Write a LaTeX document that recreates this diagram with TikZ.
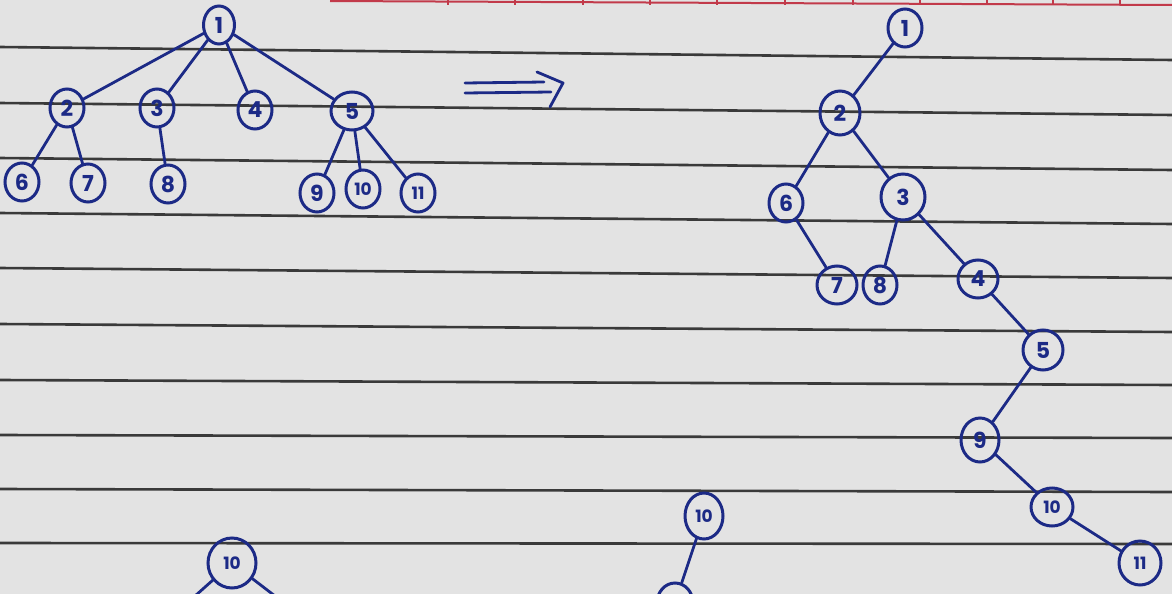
\documentclass[tikz,border=0pt]{standalone}
\usepackage{fontspec}
\setmainfont{Poppins}
\usetikzlibrary{shapes.geometric}
\definecolor{paper}{HTML}{E3E3E3}
\definecolor{rule}{HTML}{3A3A3A}
\definecolor{ink}{HTML}{1C2A86}
\definecolor{redline}{HTML}{C23A4A}
\tikzset{
  vtx/.style={ellipse, draw=ink, line width=3pt, text=ink, inner sep=0pt,
    minimum width=34pt, minimum height=38pt, font=\fontsize{22}{22}\selectfont\bfseries},
  small/.style={font=\fontsize{17}{17}\selectfont\bfseries},
  big/.style={minimum width=44pt, minimum height=46pt},
  edge/.style={draw=ink, line width=2.8pt, line cap=round},
  ruling/.style={draw=rule, line width=2.6pt},
  header/.style={draw=redline, line width=2pt}
}
\begin{document}
\begin{tikzpicture}[x=1pt,y=-1pt]
\fill[paper] (0,0) rectangle (1172,594);
\useasboundingbox (0,0) rectangle (1172,594);
\clip (0,0) rectangle (1172,594);
% notebook rulings
\foreach \a/\b in {47/60,103/115,158/170,213/224,268/278,324/332,380/385,435/438,489/492,543/544}
  \draw[ruling] (0,\a) -- (1172,\b);
% red header line with ticks
\draw[header] (330,1) -- (1172,5);
\foreach \t in {448,515,583,650,717,785,853,920,987,1053,1120}
  \draw[header] (\t,0) -- (\t,5);

% ---------- left tree ----------
\node[vtx, minimum width=31pt] (L1) at (219,25) {1};
\node[vtx] (L2) at (67,108) {2};
\node[vtx] (L3) at (157,108) {3};
\node[vtx] (L4) at (255,110) {4};
\node[vtx, minimum width=42pt] (L5) at (352,111) {5};
\node[vtx] (L6) at (22,182) {6};
\node[vtx] (L7) at (88,183) {7};
\node[vtx] (L8) at (168,184) {8};
\node[vtx] (L9) at (317,193) {9};
\node[vtx, small] (L10) at (363,189) {10};
\node[vtx, small] (L11) at (418,193) {11};
\draw[edge] (L1) -- (L2);
\draw[edge] (L1) -- (L3);
\draw[edge] (L1) -- (L4);
\draw[edge] (L1) -- (L5);
\draw[edge] (L2) -- (L6);
\draw[edge] (L2) -- (L7);
\draw[edge] (L3) -- (L8);
\draw[edge] (L5) -- (L9);
\draw[edge] (L5) -- (L10);
\draw[edge] (L5) -- (L11);

% ---------- arrow ----------
\coordinate (A1) at (465,83);
\coordinate (A2) at (544,82);
\coordinate (A3) at (465,93);
\coordinate (A4) at (551,92);
\coordinate (H1) at (537,72);
\coordinate (H2) at (563,83);
\coordinate (H3) at (550,107);
\draw[edge] (A1) -- (A2);
\draw[edge] (A3) -- (A4);
\draw[edge, line join=round] (H1) -- (H2) -- (H3);

% ---------- right tree ----------
\node[vtx] (R1) at (905,28) {1};
\node[vtx, minimum width=40pt, minimum height=44pt] (R2) at (840,113) {2};
\node[vtx] (R6) at (786,203) {6};
\node[vtx, big] (R3) at (903,197) {3};
\node[vtx, minimum width=40pt] (R7) at (837,285) {7};
\node[vtx] (R8) at (880,285) {8};
\node[vtx, minimum width=40pt] (R4) at (978,279) {4};
\node[vtx, minimum width=40pt, minimum height=40pt] (R5) at (1043,350) {5};
\node[vtx, minimum width=38pt, minimum height=44pt] (R9) at (980,440) {9};
\node[vtx, small, minimum width=42pt] (R10) at (1052,507) {10};
\node[vtx, small, minimum width=42pt, minimum height=44pt] (R11) at (1140,563) {11};
\draw[edge] (R1) -- (R2);
\draw[edge] (R2) -- (R6);
\draw[edge] (R2) -- (R3);
\draw[edge] (R6) -- (R7);
\draw[edge] (R3) -- (R8);
\draw[edge] (R3) -- (R4);
\draw[edge] (R4) -- (R5);
\draw[edge] (R5) -- (R9);
\draw[edge] (R9) -- (R10);
\draw[edge] (R10) -- (R11);

% ---------- bottom trees (cut off) ----------
\node[vtx, small, minimum width=48pt, minimum height=50pt] (B1) at (232,563) {10};
\coordinate (B1l) at (195,596);
\coordinate (B1r) at (275,596);
\draw[edge] (B1) -- (B1l);
\draw[edge] (B1) -- (B1r);

\node[vtx, small, minimum width=38pt, minimum height=46pt] (C1) at (704,516) {10};
\node[vtx, minimum width=36pt, minimum height=40pt] (C2) at (675,603) {};
\draw[edge] (C1) -- (C2);
\end{tikzpicture}
\end{document}
